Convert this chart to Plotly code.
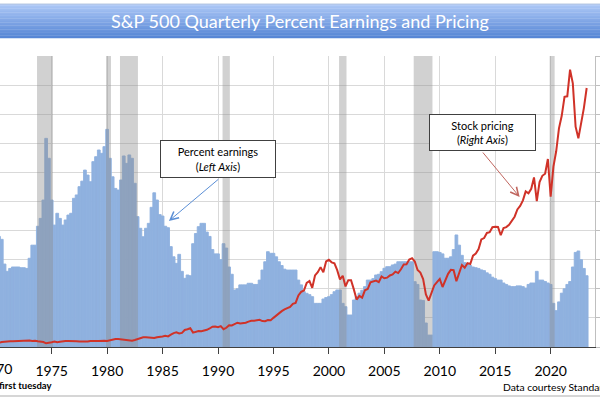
import plotly.graph_objects as go

# ---------------- data ----------------
years = list(range(1970, 2024))
quarter_x = [y + q * 0.25 for y in years for q in range(4)][:214]  # 1970Q1 .. 2023Q2

# percent earnings (earnings yield, %), left axis
earnings_pct = [
    6.3, 7.6, 7.4, 5.7,      # 1970
    5.2, 5.4, 5.5, 5.5,      # 1971
    5.5, 5.45, 5.45, 5.4,    # 1972
    6.1, 7.0, 7.0, 8.3,      # 1973
    8.84, 10.1, 14.34, 12.97,  # 1974
    10.1, 8.38, 9.19, 8.84,  # 1975
    8.38, 8.73, 9.07, 9.19,  # 1976
    10.22, 10.45, 11.02, 11.4,  # 1977
    12.16, 11.82, 11.36, 12.74,  # 1978
    13.08, 13.54, 13.31, 13.77,  # 1979
    14.96, 12.97, 11.7, 10.9,  # 1980
    10.79, 11.48, 13.13, 12.62,  # 1981
    13.2, 12.97, 11.25, 8.96,  # 1982
    8.16, 7.58, 8.16, 8.5,   # 1983
    9.6, 10.6, 10.1, 9.1,    # 1984
    9.0, 8.3, 8.2, 6.9,      # 1985
    6.2, 5.75, 6.37, 5.2,    # 1986
    4.72, 4.95, 4.9, 7.1,    # 1987
    7.8, 8.27, 8.5, 8.5,     # 1988
    7.9, 7.6, 6.7, 6.4,      # 1989
    6.4, 6.0, 7.1, 6.8,      # 1990
    5.5, 5.0, 3.92, 4.0,     # 1991
    4.27, 4.27, 4.27, 4.38,  # 1992
    4.38, 4.3, 4.3, 4.6,     # 1993
    5.29, 5.86, 6.55, 6.44,  # 1994
    6.44, 6.2, 5.86, 5.6,    # 1995
    5.35, 5.29, 5.29, 5.29,  # 1996
    5.29, 4.6, 4.27, 3.8,    # 1997
    3.69, 3.6, 3.46, 3.0,    # 1998
    3.0, 3.0, 3.3, 3.4,      # 1999
    3.46, 3.6, 3.8, 3.92,    # 2000
    3.92, 3.0, 2.77, 2.2,    # 2001
    2.2, 3.23, 3.46, 3.7,    # 2002
    3.9, 4.15, 4.6, 4.6,     # 2003
    4.7, 4.95, 5.0, 5.18,    # 2004
    5.41, 5.52, 5.52, 5.64,  # 2005
    5.7, 5.86, 5.86, 5.86,   # 2006
    5.86, 5.86, 5.86, 4.49,  # 2007
    4.3, 3.23, 3.2, 1.65,    # 2008
    0.82, 0.82, 6.55, 6.55,  # 2009
    6.5, 6.4, 6.1, 6.1,      # 2010
    6.2, 6.7, 7.7, 7.0,      # 2011
    6.3, 5.8, 5.7, 5.6,      # 2012
    5.5, 5.45, 5.4, 5.3,     # 2013
    5.25, 5.1, 5.0, 4.8,     # 2014
    4.7, 4.6, 4.6, 4.4,      # 2015
    4.3, 4.2, 4.15, 4.15,    # 2016
    4.2, 4.2, 4.15, 4.05,    # 2017
    4.3, 4.4, 4.4, 5.2,      # 2018
    4.6, 4.6, 4.5, 4.4,      # 2019
    4.3, 3.0, 2.5, 3.1,      # 2020
    3.7, 4.0, 4.3, 4.5,      # 2021
    5.5, 6.5, 6.6, 6.0,      # 2022
    5.4, 4.9,                # 2023
]

# S&P 500 index level, right axis
stock_price = [
    89.6, 72.7, 84.3, 92.2,
    100.3, 99.0, 98.3, 102.1,
    107.2, 107.1, 110.6, 118.1,
    111.5, 104.3, 108.4, 97.6,
    94.0, 86.0, 63.5, 68.6,
    83.4, 95.2, 83.9, 90.2,
    102.8, 104.3, 105.2, 107.5,
    98.4, 100.5, 96.5, 95.1,
    89.2, 95.5, 102.5, 96.1,
    101.6, 102.9, 109.3, 107.9,
    102.1, 114.2, 125.5, 135.8,
    136.0, 131.2, 116.2, 122.6,
    112.0, 109.6, 120.4, 140.6,
    153.0, 168.1, 166.1, 164.9,
    159.2, 153.2, 166.1, 167.2,
    180.7, 191.9, 182.1, 211.3,
    238.9, 250.8, 231.3, 242.2,
    291.7, 304.0, 321.8, 247.1,
    258.9, 273.5, 271.9, 277.7,
    294.9, 318.0, 349.2, 353.4,
    339.9, 358.0, 306.1, 330.2,
    375.2, 371.2, 387.9, 417.1,
    403.7, 408.1, 417.8, 435.7,
    451.7, 450.5, 458.9, 466.5,
    445.8, 444.3, 462.7, 459.3,
    500.7, 544.8, 584.4, 615.9,
    645.5, 670.6, 687.3, 740.7,
    757.1, 885.1, 947.3, 970.4,
    1101.8, 1133.8, 1017.0, 1229.2,
    1286.4, 1372.7, 1282.7, 1469.3,
    1498.6, 1454.6, 1436.5, 1320.3,
    1160.3, 1224.4, 1040.9, 1148.1,
    1147.4, 989.8, 815.3, 879.8,
    848.2, 974.5, 996.0, 1111.9,
    1126.2, 1140.8, 1114.6, 1211.9,
    1180.6, 1191.3, 1228.8, 1248.3,
    1294.9, 1270.2, 1335.9, 1418.3,
    1420.9, 1503.4, 1526.8, 1468.4,
    1322.7, 1280.0, 1166.4, 903.3,
    797.9, 919.3, 1057.1, 1115.1,
    1169.4, 1030.7, 1141.2, 1257.6,
    1325.8, 1320.6, 1131.4, 1257.6,
    1408.5, 1362.2, 1440.7, 1426.2,
    1569.2, 1606.3, 1681.6, 1848.4,
    1872.3, 1960.2, 1972.3, 2058.9,
    2067.9, 2063.1, 1920.0, 2043.9,
    2059.7, 2098.9, 2168.3, 2238.8,
    2362.7, 2423.4, 2519.4, 2673.6,
    2640.9, 2718.4, 2914.0, 2506.9,
    2834.4, 2941.8, 2976.7, 3230.8,
    2584.6, 3100.3, 3363.0, 3756.1,
    3972.9, 4297.5, 4307.5, 4766.2,
    4530.4, 3785.4, 3585.6, 3839.5,
    4109.3, 4450.4,
]

# recessions (start, end) in decimal years
recession_start = [1973.68, 1979.90, 1981.16, 1990.41, 2000.92, 2007.65, 2019.91]
recession_end = [1975.12, 1980.35, 1982.78, 1991.07, 2001.59, 2009.34, 2020.36]

tick_years = [1975, 1980, 1985, 1990, 1995, 2000, 2005, 2010, 2015, 2020]
tick_labels = [str(y) for y in tick_years]

title_text = "S&P 500 Quarterly Percent Earnings and Pricing"

# ---------------- geometry helpers ----------------
W, H = 600, 400
PL, PR, PT, PB = 0, 595.4, 56, 347      # plot area in pixels
X0, X1 = 1970.34, 2024.0


def px_x(px):
    return (px - PL) / (PR - PL)


def px_y(py):
    return (PB - py) / (PB - PT)


FONT = "Lato"

fig = go.Figure()

fig.add_trace(go.Bar(
    x=quarter_x, y=earnings_pct, width=0.25,
    marker=dict(color="#8FB1DF", line=dict(width=0.9, color="#8FB1DF")),
    yaxis="y", hoverinfo="skip", showlegend=False,
))

for s, e in zip(recession_start, recession_end):
    fig.add_trace(go.Scatter(
        x=[s, s, e, e, s], y=[0, 5000, 5000, 0, 0], mode="lines",
        fill="toself", fillcolor="rgba(140,140,140,0.40)",
        line=dict(width=0), yaxis="y2", hoverinfo="skip", showlegend=False,
    ))

fig.add_trace(go.Scatter(
    x=quarter_x, y=stock_price, mode="lines",
    line=dict(color="#D03228", width=2),
    yaxis="y2", hoverinfo="skip", showlegend=False,
))

shapes = []
# title banner gradient
top, bot = 4.0, 38.0
n = 24
c0 = (172, 199, 246)
c1 = (86, 134, 213)
for k in range(n):
    t = k / (n - 1)
    col = tuple(int(round(c0[j] + (c1[j] - c0[j]) * t)) for j in range(3))
    y_a = top + (bot - top) * k / n
    y_b = top + (bot - top) * (k + 1) / n + 0.3
    shapes.append(dict(type="rect", xref="paper", yref="paper",
                       x0=px_x(-2), x1=px_x(602), y0=px_y(y_b), y1=px_y(y_a),
                       fillcolor="rgb(%d,%d,%d)" % col, line=dict(width=0), layer="above"))
shapes.append(dict(type="line", xref="paper", yref="paper", x0=px_x(-2), x1=px_x(602),
                   y0=px_y(top), y1=px_y(top), line=dict(color="#b8c8e0", width=1)))
# bottom border
shapes.append(dict(type="line", xref="paper", yref="paper", x0=px_x(-2), x1=px_x(602),
                   y0=px_y(396), y1=px_y(396), line=dict(color="#c8c8c8", width=1.5)))

annotations = [
    dict(text=title_text, x=px_x(300), y=px_y(21.5), xref="paper", yref="paper",
         showarrow=False, xanchor="center", yanchor="middle",
         font=dict(family=FONT, size=18, color="white")),
    dict(text="1970", x=px_x(-3.8), y=px_y(368), xref="paper", yref="paper",
         showarrow=False, xanchor="center", yanchor="middle",
         font=dict(family=FONT, size=14, color="black")),
    dict(text="<b>first tuesday</b>", x=px_x(-3), y=px_y(385), xref="paper", yref="paper",
         showarrow=False, xanchor="left", yanchor="middle",
         font=dict(family=FONT, size=9.5, color="black")),
    dict(text="Data courtesy Standard &amp; Poor's", x=px_x(501), y=px_y(387),
         xref="paper", yref="paper", showarrow=False, xanchor="left", yanchor="middle",
         font=dict(family=FONT, size=10.3, color="black")),
    # percent earnings box
    dict(text="Percent earnings<br>(<i>Left Axis</i>)", x=px_x(218), y=px_y(159),
         xref="paper", yref="paper", showarrow=False, xanchor="center", yanchor="middle",
         font=dict(family=FONT, size=11, color="black"), bgcolor="white",
         bordercolor="#404040", borderwidth=1, borderpad=2, width=110, height=32),
    dict(text="", x=px_x(169), y=px_y(221), xref="paper", yref="paper",
         showarrow=True, ax=51, ay=-43, arrowhead=5, arrowsize=1.6, arrowwidth=1,
         arrowcolor="#5B8FD6"),
    # stock pricing box
    dict(text="Stock pricing<br>(<i>Right Axis</i>)", x=px_x(482.5), y=px_y(132.5),
         xref="paper", yref="paper", showarrow=False, xanchor="center", yanchor="middle",
         font=dict(family=FONT, size=11, color="black"), bgcolor="white",
         bordercolor="#404040", borderwidth=1, borderpad=2, width=101, height=31),
    dict(text="", x=px_x(520), y=px_y(197), xref="paper", yref="paper",
         showarrow=True, ax=-38, ay=-46, arrowhead=5, arrowsize=1.6, arrowwidth=1,
         arrowcolor="#C0665F"),
]

fig.update_layout(
    width=W, height=H, autosize=False,
    margin=dict(l=PL, r=W - PR, t=PT, b=H - PB, pad=0),
    paper_bgcolor="white", plot_bgcolor="white",
    bargap=0, showlegend=False,
    font=dict(family=FONT, color="black"),
    xaxis=dict(range=[X0, X1], tickvals=tick_years, ticktext=tick_labels,
               ticks="outside", ticklen=6, tickcolor="#404040", tickwidth=1,
               showline=True, linecolor="#404040", linewidth=1,
               showgrid=True, gridcolor="#d9d9d9", gridwidth=1, zeroline=False,
               tickfont=dict(family=FONT, size=14, color="black"),
               ticklabelstandoff=5),
    yaxis=dict(range=[0, 20], dtick=2, showgrid=True, gridcolor="#d9d9d9",
               gridwidth=1, zeroline=False, showticklabels=False, showline=False),
    yaxis2=dict(range=[0, 5000], dtick=500, overlaying="y", side="right",
                showgrid=False, zeroline=False, showticklabels=False,
                ticks="outside", ticklen=4, tickcolor="#bfbfbf",
                showline=True, linecolor="#bfbfbf", linewidth=1),
    shapes=shapes, annotations=annotations,
)

fig.write_html(
    "out.html",
    config={"displayModeBar": False, "staticPlot": True},
    post_script="document.body.style.margin='0';document.body.style.overflow='hidden';",
)
